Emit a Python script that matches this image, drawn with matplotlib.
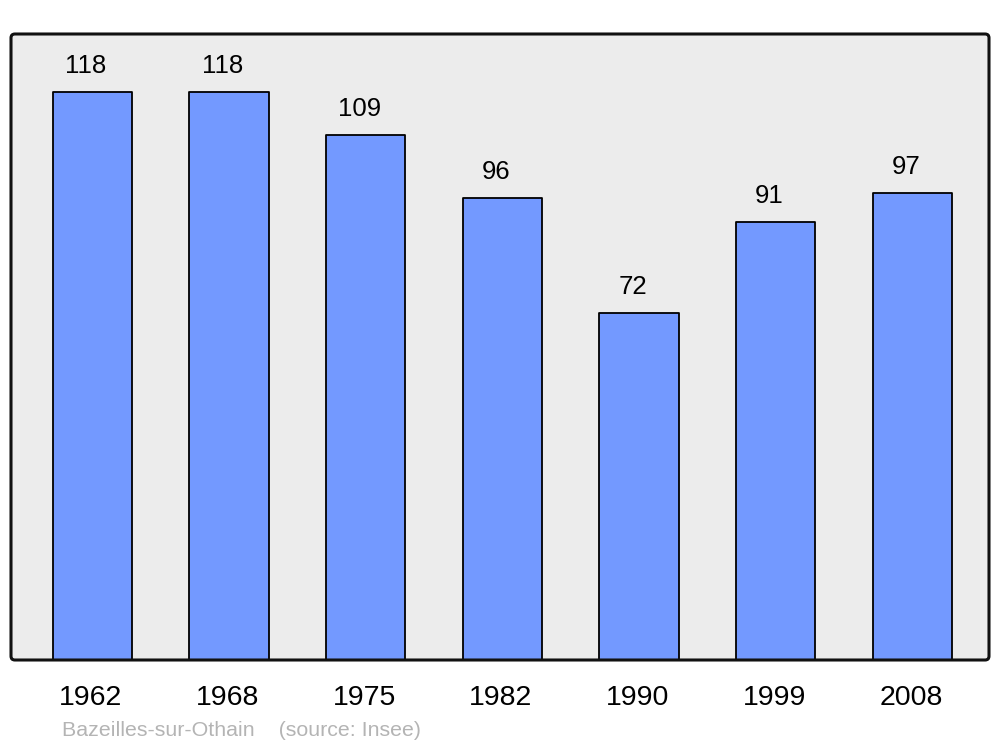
import matplotlib
matplotlib.use("Agg")
import matplotlib.pyplot as plt
from matplotlib.patches import FancyBboxPatch
from matplotlib.transforms import offset_copy

years = ["1962", "1968", "1975", "1982", "1990", "1999", "2008"]
population = [118, 118, 109, 96, 72, 91, 97]
caption = "Bazeilles-sur-Othain    (source: Insee)"

plt.rcParams['font.family'] = ['Liberation Sans', 'DejaVu Sans']

W, H = 1000, 747
fig = plt.figure(figsize=(W / 100, H / 100), dpi=100)
fig.patch.set_facecolor('white')

left, right, top, bottom = 11, 989, 34, 660
ax = fig.add_axes([left / W, 1 - bottom / H, (right - left) / W, (bottom - top) / H])
ax.set_facecolor('#ECECEC')

x = list(range(len(years)))
ax.bar(x, population, width=0.58, color='#7399FF', edgecolor='black',
       linewidth=1.3, zorder=2, joinstyle='round')

ax.set_xlim(-0.595, 6.56)
ax.set_ylim(0, 130)

for xi, v in zip(x, population):
    ax.annotate(str(v), (xi, v), xytext=(-4.5, 18.7), textcoords='offset points',
                ha='center', va='center', fontsize=18.5, color='black', zorder=3)

ax.set_xticks(x)
ax.set_xticklabels(years, fontsize=20.5)
ax.tick_params(axis='x', length=0, pad=18)
for lbl in ax.get_xticklabels():
    lbl.set_transform(offset_copy(lbl.get_transform(), fig=fig, x=-1.5, y=0, units='dots'))
ax.set_yticks([])
for s in ax.spines.values():
    s.set_visible(False)

frame = FancyBboxPatch((0, 0), 1, 1, boxstyle="round,pad=0,rounding_size=0.004",
                       transform=ax.transAxes, facecolor='none', edgecolor='#111111',
                       linewidth=2.2, zorder=5, clip_on=False,
                       mutation_aspect=(right - left) / (bottom - top))
ax.add_patch(frame)

fig.text(62 / W, 1 - 731 / H, caption, fontsize=15.4, color='#B4B4B4',
         ha='left', va='center')

fig.savefig("out.png", dpi=100)
